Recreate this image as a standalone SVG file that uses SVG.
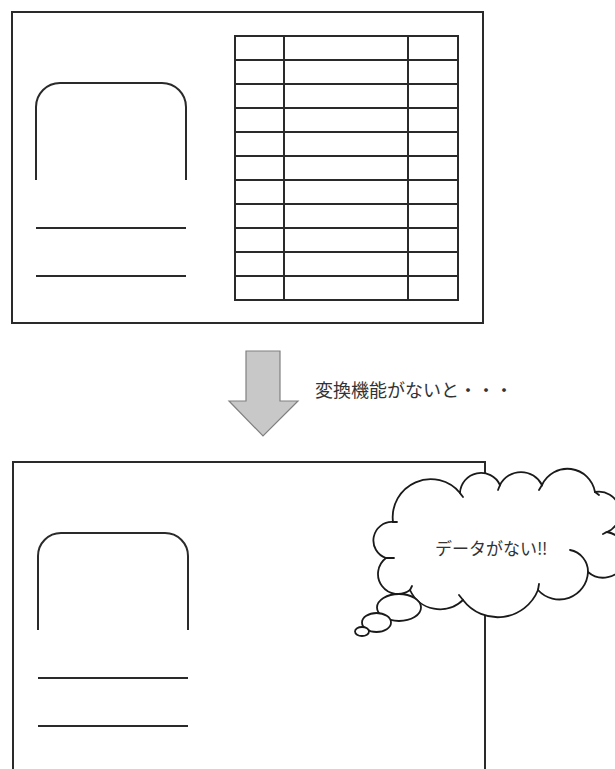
<svg xmlns="http://www.w3.org/2000/svg" width="615" height="769" viewBox="0 0 615 769">
<style>
.ln{fill:none;stroke:#2a2a2a;stroke-width:2}
.cl{fill:#fff;stroke:#1a1a1a;stroke-width:1.8}
.tk{fill:none;stroke:#1a1a1a;stroke-width:1.8;stroke-linecap:round}
.tx{font-family:"Noto Sans CJK JP","Noto Sans",sans-serif;fill:#333}
</style>
<rect width="615" height="769" fill="#fff"/>
<g id="top-card">
<rect class="ln" x="12" y="12" width="471" height="311"/>
<path class="ln" d="M36,180 V107 A24,24 0 0 1 60,83 H162 A24,24 0 0 1 186,107 V180"/>
<path class="ln" d="M36,228 H186 M36,276 H186"/>
</g>
<g id="table">
<rect class="ln" x="235" y="36" width="223" height="264"/>
<path class="ln" d="M284,36 V300 M408,36 V300 M235,60 H458 M235,84 H458 M235,108 H458 M235,132 H458 M235,156 H458 M235,180 H458 M235,204 H458 M235,228 H458 M235,252 H458 M235,276 H458"/>
</g>
<g id="connectors">
<polygon points="246,351 280,351 280,401 298,401 263,436 229,401 246,401" fill="#c8c8c8" stroke="#808080" stroke-width="1.2"/>
<text class="tx" x="315" y="397" font-size="18">変換機能がないと・・・</text>
</g>
<g id="bottom-card">
<path class="ln" d="M13,769 V462 H485 V769"/>
<path class="ln" d="M38,630 V556 A23,23 0 0 1 61,533 H165 A23,23 0 0 1 188,556 V630"/>
<path class="ln" d="M38,678 H188 M38,726 H188"/>
</g>
<g id="cloud">
<path class="cl" d="M393,522 A38,38 0 0 1 460,493 A21,21 0 0 1 500,485 A23.5,23.5 0 0 1 542,485 A28,28 0 0 1 595,492 A21,21 0 0 1 607,532 A23,23 0 1 1 588,572 A28.7,28.7 0 0 1 538,590 A43.5,43.5 0 0 1 463,600 A33,33 0 0 1 410,590 A20,20 0 0 1 386,558 A18.5,18.5 0 0 1 393,522 Z"/>
<path class="tk" d="M393,522 l4,0 M460,493 l3,4 M500,485 l-2,5 M542,485 l-3,5 M595,492 l4,3 M607,532 l-4,2 M570,550 A22,22 0 0 1 588,572 M538,590 l1,-6 M463,600 l-4,-5 M410,590 l2,-4 M386,558 l8,0"/>
<text class="tx" x="435" y="555" font-size="17">データがない‼</text>
<ellipse class="cl" cx="399" cy="607.5" rx="22" ry="13.5"/>
<ellipse class="cl" cx="376.5" cy="622.5" rx="14.5" ry="9.5"/>
<ellipse class="cl" cx="362" cy="631.5" rx="7" ry="4.5"/>
</g>
</svg>
